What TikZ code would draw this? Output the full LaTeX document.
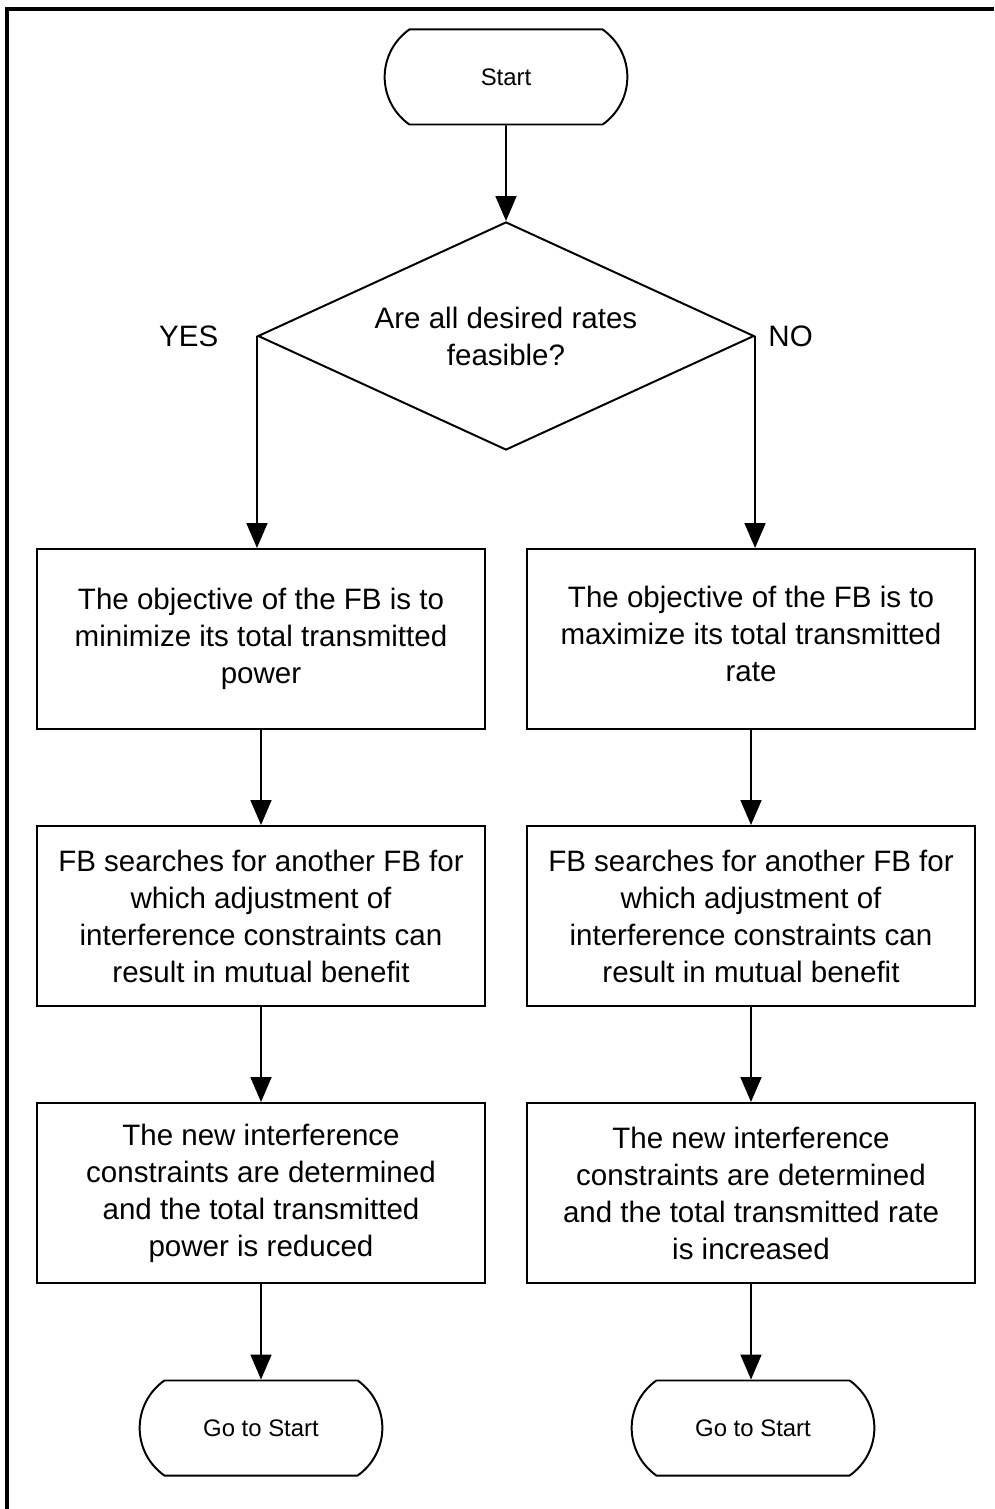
\documentclass[tikz,border=0pt]{standalone}
\usepackage{fontspec}
\setmainfont{Liberation Sans}
\usetikzlibrary{shapes.geometric,shapes.misc,arrows.meta}
\begin{document}
\begin{tikzpicture}[x=0.025cm,y=-0.025cm,
  every node/.style={font=\fontsize{21}{26.3}\selectfont},
  term/.style={draw,line width=1.4pt,rounded rectangle,rounded rectangle arc length=110,minimum width=6.3cm,minimum height=2.375cm,font=\fontsize{17}{20}\selectfont},
  decide/.style={draw,line width=1.4pt,diamond,aspect=2.18,minimum width=12.4cm,minimum height=5.7cm,inner sep=0pt,align=center},
  stepbox/.style={draw,line width=1.4pt,rectangle,minimum width=11.2cm,minimum height=4.5cm,align=center},
  flow/.style={line width=1.4pt,-{Triangle[length=0.62cm,width=0.52cm]}}]
\useasboundingbox (0,0) rectangle (994,1509);
\draw[line width=2.2pt] (7,1509) -- (7,9) -- (994,9);

\node[term] (start) at (506,77) {Start};
\node[decide] (feas) at (506,336) {Are all desired rates\\feasible?};
\node[left=24pt] (yes) at (feas.west) {YES};
\node[right=6pt] (no) at (feas.east) {NO};

\node[stepbox] (minpow) at (261,639) {The objective of the FB is to\\minimize its total transmitted\\power};
\node[stepbox] (maxrate) at (751,639) {The objective of the FB is to\\maximize its total transmitted\\rate\strut};
\node[stepbox] (searchl) at (261,916) {FB searches for another FB for\\which adjustment of\\interference constraints can\\result in mutual benefit};
\node[stepbox] (searchr) at (751,916) {FB searches for another FB for\\which adjustment of\\interference constraints can\\result in mutual benefit};
\node[stepbox] (powdown) at (261,1193) {The new interference\\constraints are determined\\and the total transmitted\\power is reduced};
\node[stepbox] (rateup) at (751,1193) {The new interference\\constraints are determined\\and the total transmitted rate\\is increased};

\node[term] (gol) at (261,1428) {Go to Start};
\node[term] (gor) at (753,1428) {Go to Start};

\draw[flow] (start) -- (feas);
\draw[flow] (feas.west) -- (feas.west |- minpow.north);
\draw[flow] (feas.east) -- (feas.east |- maxrate.north);
\draw[flow] (minpow) -- (searchl);
\draw[flow] (maxrate) -- (searchr);
\draw[flow] (searchl) -- (powdown);
\draw[flow] (searchr) -- (rateup);
\draw[flow] (powdown) -- (gol);
\draw[flow] (rateup) -- (rateup |- gor.north);
\end{tikzpicture}
\end{document}
